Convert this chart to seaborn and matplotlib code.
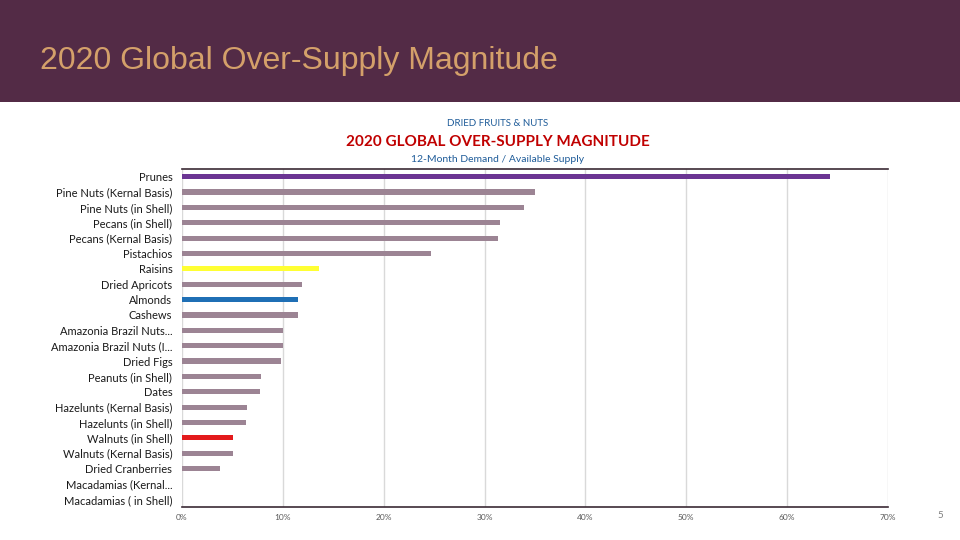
import matplotlib
matplotlib.use("Agg")
import matplotlib.pyplot as plt
import seaborn as sns
import pandas as pd

categories = [
    "Prunes", "Pine Nuts (Kernal Basis)", "Pine Nuts (in Shell)", "Pecans (in Shell)",
    "Pecans (Kernal Basis)", "Pistachios", "Raisins", "Dried Apricots", "Almonds",
    "Cashews", "Amazonia Brazil Nuts...", "Amazonia Brazil Nuts (I...", "Dried Figs",
    "Peanuts (in Shell)", "Dates", "Hazelunts (Kernal Basis)", "Hazelunts (in Shell)",
    "Walnuts (in Shell)", "Walnuts (Kernal Basis)", "Dried Cranberries",
    "Macadamias (Kernal...", "Macadamias ( in Shell)",
]
values = [0.642, 0.350, 0.339, 0.315, 0.313, 0.247, 0.136, 0.119, 0.115,
          0.115, 0.100, 0.100, 0.098, 0.078, 0.077, 0.064, 0.063,
          0.051, 0.051, 0.038, 0.0, 0.0]
x_ticks = [0, 0.1, 0.2, 0.3, 0.4, 0.5, 0.6, 0.7]
x_tick_labels = ["0%", "10%", "20%", "30%", "40%", "50%", "60%", "70%"]

base = "#9C8494"
highlight = {"Prunes": "#6B3593", "Raisins": "#FFFF33", "Almonds": "#1F6FB5",
             "Walnuts (in Shell)": "#E31A1C"}
palette = {c: highlight.get(c, base) for c in categories}

df = pd.DataFrame({"cat": categories, "val": values})

sns.set_theme(style="white")
plt.rcParams["font.family"] = ["Lato", "DejaVu Sans"]

fig = plt.figure(figsize=(9.6, 5.4), dpi=100)
fig.patch.set_facecolor("white")

# header band
fig.patches.append(plt.Rectangle((0, 1 - 102 / 540), 1, 102 / 540, transform=fig.transFigure,
                                 facecolor="#532B46", edgecolor="none", zorder=0))
fig.text(40 / 960, 1 - 61 / 540, "2020 Global Over-Supply Magnitude", color="#D4A06A",
         fontsize=23, family=["Liberation Sans", "DejaVu Sans"], va="center", ha="left")

fig.text(498 / 960, 1 - 124 / 540, "DRIED FRUITS & NUTS", color="#1F5C99", fontsize=7,
         ha="center", va="center")
fig.text(498 / 960, 1 - 142 / 540, "2020 GLOBAL OVER-SUPPLY MAGNITUDE", color="#C00000",
         fontsize=11, fontweight="bold", ha="center", va="center")
fig.text(498 / 960, 1 - 160 / 540, "12-Month Demand / Available Supply", color="#1F5C99",
         fontsize=7.5, ha="center", va="center")
fig.text(940 / 960, 1 - 515 / 540, "5", color="#7F7F7F", fontsize=7, ha="center", va="center")

ax = fig.add_axes([182 / 960, 1 - 507 / 540, (888 - 182) / 960, (507 - 169) / 540])
sns.barplot(data=df, y="cat", x="val", hue="cat", palette=palette, orient="h",
            width=0.34, legend=False, ax=ax, saturation=1, linewidth=0)
ax.set_xlim(0, 0.7)
ax.set_xticks(x_ticks)
ax.set_xticklabels(x_tick_labels, fontsize=6, color="#595959")
ax.set_xlabel("")
ax.set_ylabel("")
ax.tick_params(axis="y", labelsize=8, colors="#1A1A1A", length=0, pad=7)
ax.tick_params(axis="x", length=0, pad=5)
ax.grid(axis="x", color="#D9D9D9", linewidth=1)
ax.set_axisbelow(True)
for s in ["left", "right"]:
    ax.spines[s].set_visible(False)
for s in ["top", "bottom"]:
    ax.spines[s].set_visible(True)
    ax.spines[s].set_color("#3B2A35")
    ax.spines[s].set_linewidth(1.2)

fig.savefig("out.png", dpi=100)
